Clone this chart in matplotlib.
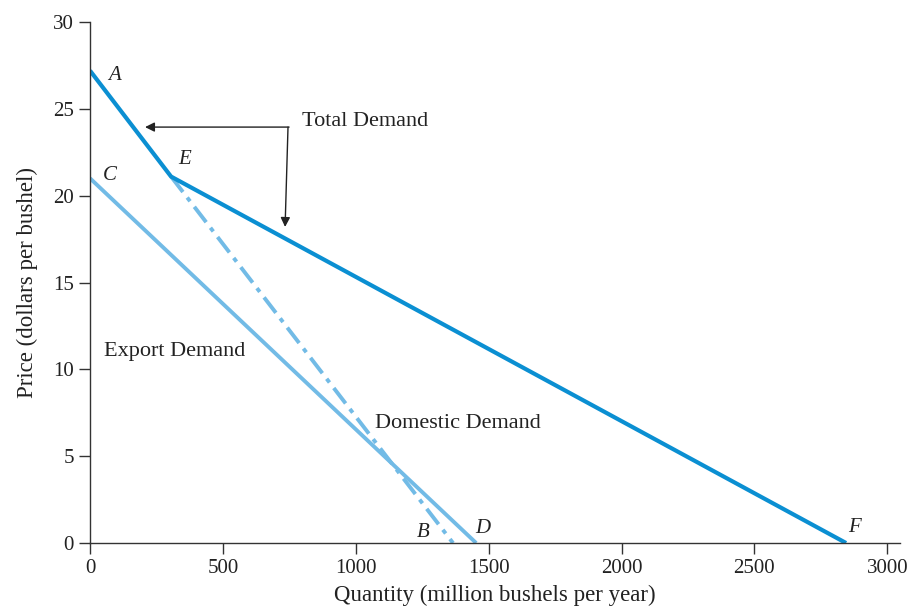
import matplotlib.pyplot as plt

# demand curves (quantity in million bushels, price in $/bushel)
total_q = [0, 305, 2845]
total_p = [27.2, 21.1, 0]
export_q = [0, 1453]
export_p = [21.0, 0]
domestic_q = [305, 1366]
domestic_p = [21.1, 0]

point_labels = ['A', 'E', 'C', 'B', 'D', 'F']
point_xy = [(68, 26.65), (331, 21.8), (48, 20.9), (1231, 0.35), (1449, 0.58), (2853, 0.63)]

dark_blue = '#0b8fd2'
light_blue = '#72bbe6'

plt.rcParams['font.family'] = ['Liberation Serif', 'DejaVu Serif']

fig = plt.figure(figsize=(9.13, 6.10), dpi=100)
ax = fig.add_axes([0.0986, 0.1098, 0.8872, 0.8541])

ax.plot(export_q, export_p, color=light_blue, lw=2.8, solid_capstyle='butt')
ax.plot(domestic_q, domestic_p, color=light_blue, lw=2.8,
        linestyle=(0, (5, 1.8, 1.2, 1.8)))
ax.plot(total_q, total_p, color=dark_blue, lw=3.0, solid_capstyle='butt')

for lab, (x, y) in zip(point_labels, point_xy):
    ax.text(x, y, lab, fontsize=15, style='italic', color='#222222')

ax.text(798, 24.3, 'Total Demand', fontsize=16, color='#222222', va='center')
ax.text(53, 11.05, 'Export Demand', fontsize=16, color='#222222', va='center')
ax.text(1073, 6.9, 'Domestic Demand', fontsize=16, color='#222222', va='center')

# bracket arrows from "Total Demand"
ax.annotate('', xy=(207, 23.95), xytext=(749, 23.95),
            arrowprops=dict(arrowstyle='-|>', color='#222222', lw=1.0,
                            shrinkA=0, shrinkB=0, mutation_scale=14))
ax.annotate('', xy=(734, 18.2), xytext=(745, 23.95),
            arrowprops=dict(arrowstyle='-|>', color='#222222', lw=1.0,
                            shrinkA=0, shrinkB=0, mutation_scale=14))

ax.set_xlim(0, 3048)
ax.set_ylim(0, 30)
ax.set_xticks([0, 500, 1000, 1500, 2000, 2500, 3000])
ax.set_yticks([0, 5, 10, 15, 20, 25, 30])
ax.spines['top'].set_visible(False)
ax.spines['right'].set_visible(False)
for s in ['left', 'bottom']:
    ax.spines[s].set_color('#333333')
    ax.spines[s].set_linewidth(1.0)
ax.tick_params(direction='out', length=8, width=1, color='#333333',
               labelsize=15, labelcolor='#222222')
ax.set_xlabel('Quantity (million bushels per year)', fontsize=16.5, color='#222222', labelpad=5)
ax.set_ylabel('Price (dollars per bushel)', fontsize=16.5, color='#222222', labelpad=11)

fig.savefig('out.png', dpi=100)
